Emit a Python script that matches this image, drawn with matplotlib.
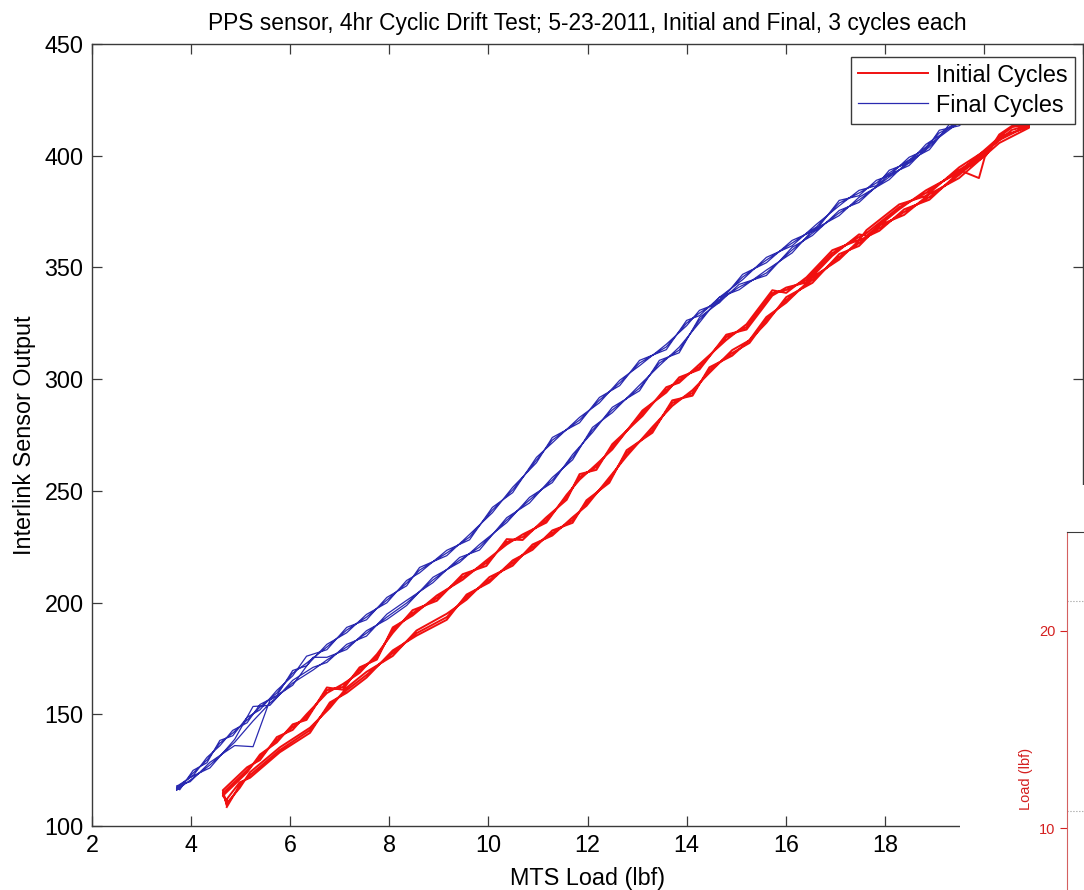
import matplotlib
matplotlib.use("Agg")
import matplotlib.pyplot as plt
from matplotlib.patches import Rectangle

plt.rcParams['font.family'] = ['Liberation Sans', 'DejaVu Sans']

# initial cycles (red): loading path (lower band), then unloading path (upper band)
red_up_x = [4.72, 4.98, 5.19, 5.79, 6.40, 6.80, 7.14, 7.54, 8.07, 8.55, 9.16, 9.56, 10.02, 10.49,
            10.89, 11.29, 11.70, 11.98, 12.44, 12.79, 13.31, 13.71, 14.12, 14.46, 14.92, 15.27,
            15.61, 16.01, 16.54, 17.08, 17.48, 17.89, 18.39, 18.90, 19.50, 20.31, 20.91]
red_up_y1 = [108.5, 118.3, 122.8, 134.0, 142.9, 154.1, 160.8, 167.6, 177.4, 186.3, 193.5, 202.5,
             210.1, 217.7, 224.8, 231.1, 236.9, 244.5, 254.8, 266.9, 277.2, 289.3, 293.8, 304.1,
             311.7, 316.2, 326.5, 335.4, 344.4, 354.7, 360.9, 367.6, 374.8, 381.5, 391.4, 407.0, 413.7]
red_up_y2 = [110.2, 117.0, 124.1, 135.2, 144.0, 152.8, 161.9, 169.0, 176.1, 187.5, 195.0, 201.3,
             211.4, 216.5, 226.0, 230.0, 238.2, 243.3, 256.0, 265.5, 278.6, 288.0, 295.1, 302.8,
             313.0, 317.4, 325.2, 336.7, 343.1, 356.0, 359.6, 368.9, 373.5, 382.8, 390.0, 405.7, 412.5]
red_up_y3 = [112.0, 119.5, 121.6, 133.0, 141.7, 155.3, 159.6, 166.4, 178.6, 185.2, 192.3, 203.6,
             209.0, 218.9, 223.6, 232.3, 235.7, 245.8, 253.6, 268.2, 276.0, 290.5, 292.6, 305.3,
             310.5, 317.5, 327.8, 334.2, 345.6, 353.5, 362.1, 366.4, 376.0, 380.3, 392.6, 408.3, 413.0]

red_dn_x = [20.91, 20.57, 20.31, 20.04, 19.50, 18.83, 18.29, 17.63, 17.48, 16.94, 16.42, 16.01,
            15.73, 15.21, 14.80, 14.26, 13.85, 13.59, 13.11, 12.50, 12.18, 11.84, 11.58, 11.17,
            10.69, 10.37, 9.96, 9.48, 8.96, 8.47, 8.07, 7.75, 7.40, 7.06, 6.74, 6.33, 6.05, 5.73,
            5.39, 5.13, 4.64, 4.72]
red_dn_y1 = [414.2, 412.8, 408.4, 401.2, 393.6, 383.3, 377.0, 365.4, 363.6, 356.4, 344.4, 339.9,
             338.5, 323.3, 318.8, 305.4, 299.6, 295.1, 284.8, 269.6, 260.7, 256.2, 247.2, 236.9,
             229.3, 227.1, 217.7, 211.4, 202.0, 195.3, 187.7, 175.6, 169.8, 162.2, 160.8, 148.7,
             144.3, 138.5, 130.8, 125.0, 114.7, 110.0]
red_dn_y2 = [413.5, 411.6, 407.0, 402.5, 394.8, 382.0, 378.2, 366.7, 362.3, 357.7, 345.6, 338.6,
             339.8, 324.6, 317.5, 306.7, 298.4, 296.4, 283.5, 270.9, 259.4, 257.5, 246.0, 238.2,
             228.0, 228.4, 216.4, 212.7, 200.8, 196.6, 186.4, 176.9, 168.5, 163.5, 159.5, 150.0,
             143.0, 139.8, 129.5, 126.3, 116.0, 109.2]
red_dn_y3 = [412.9, 413.4, 409.5, 400.0, 392.5, 384.5, 376.0, 364.2, 364.8, 355.2, 343.3, 341.0,
             337.4, 322.2, 319.9, 304.3, 300.8, 294.0, 286.0, 268.5, 261.9, 255.0, 248.3, 235.8,
             230.5, 226.0, 218.9, 210.2, 203.2, 194.2, 188.9, 174.5, 171.0, 161.0, 162.0, 147.5,
             145.5, 137.4, 132.0, 124.0, 113.5, 111.5]

# glitch near the top of one initial cycle
red_glitch_x = [19.50, 19.90, 20.04]
red_glitch_y = [393.6, 390.0, 401.2]

# final cycles (blue)
blue_up_x = [3.71, 3.98, 4.38, 4.88, 5.25, 5.59, 6.05, 6.46, 6.74, 7.14, 7.54, 7.95, 8.35, 8.88,
             9.42, 9.82, 10.37, 10.83, 11.29, 11.70, 12.10, 12.50, 13.05, 13.45, 13.85, 14.26,
             14.66, 15.06, 15.61, 16.13, 16.54, 17.08, 17.48, 18.09, 18.49, 18.90, 19.30, 20.31]
blue_up_y1 = [116.1, 120.5, 127.3, 137.5, 147.0, 155.0, 164.0, 169.8, 174.3, 180.1, 186.3, 193.5,
              199.8, 210.1, 219.0, 224.8, 236.9, 245.9, 254.8, 265.1, 277.2, 286.2, 296.0, 307.2,
              313.0, 326.5, 335.4, 341.2, 347.5, 357.8, 365.4, 374.4, 380.2, 390.5, 396.7, 403.9,
              412.8, 427.2]
blue_up_y2 = [117.0, 121.8, 126.0, 138.8, 153.5, 154.0, 165.2, 171.0, 173.2, 181.3, 185.0, 194.8,
              201.0, 208.9, 220.2, 223.5, 238.0, 244.6, 256.0, 263.9, 278.4, 285.0, 297.3, 306.0,
              314.3, 325.3, 336.6, 340.0, 348.8, 356.5, 366.6, 373.2, 381.4, 389.3, 397.9, 402.7,
              414.0, 426.0]
blue_up_y3 = [118.0, 119.8, 128.5, 136.0, 135.5, 156.3, 163.0, 175.5, 175.5, 179.0, 187.4, 192.4,
              198.7, 211.3, 218.0, 226.0, 235.8, 247.1, 253.7, 266.3, 276.1, 287.4, 294.8, 308.4,
              311.8, 327.6, 334.3, 342.4, 346.4, 359.0, 364.3, 375.5, 379.1, 391.6, 395.6, 405.0,
              411.6, 428.0]

blue_dn_x = [20.31, 19.50, 19.10, 18.83, 18.49, 18.09, 17.83, 17.48, 17.08, 16.62, 16.13, 15.61,
             15.13, 14.66, 14.26, 14.00, 13.59, 13.05, 12.65, 12.24, 11.84, 11.29, 10.97, 10.49,
             10.08, 9.62, 9.16, 8.61, 8.35, 7.95, 7.54, 7.14, 6.74, 6.33, 6.05, 5.73, 5.39, 5.13,
             4.84, 4.58, 4.32, 4.04, 3.77, 3.71]
blue_dn_y1 = [427.2, 414.6, 410.2, 403.9, 398.1, 392.3, 387.8, 383.3, 378.8, 368.1, 360.9, 353.3,
              345.7, 335.4, 329.6, 325.1, 314.4, 307.2, 298.3, 290.6, 281.7, 272.7, 263.8, 250.4,
              241.4, 229.3, 222.2, 214.5, 208.7, 201.1, 193.5, 187.7, 180.1, 172.9, 168.4, 159.5,
              153.2, 147.4, 141.6, 137.1, 129.5, 123.7, 117.4, 116.1]
blue_dn_y2 = [426.0, 415.8, 409.0, 405.1, 396.9, 393.5, 386.6, 384.5, 377.6, 369.3, 359.7, 354.5,
              344.5, 336.6, 328.4, 326.3, 313.2, 308.4, 297.1, 291.8, 280.5, 273.9, 262.6, 251.6,
              240.2, 230.5, 221.0, 215.7, 207.5, 202.3, 192.3, 188.9, 178.9, 176.0, 167.2, 160.7,
              152.0, 148.6, 140.4, 138.3, 128.3, 124.9, 116.2, 117.5]
blue_dn_y3 = [428.0, 413.4, 411.4, 402.7, 399.3, 391.1, 389.0, 382.1, 380.0, 366.9, 362.1, 352.1,
              346.9, 334.2, 330.8, 323.9, 315.6, 306.0, 299.5, 289.4, 282.9, 271.5, 265.0, 249.2,
              242.6, 228.1, 223.4, 213.3, 209.9, 199.9, 194.7, 186.5, 181.3, 171.7, 169.6, 158.3,
              154.4, 146.2, 142.8, 135.9, 130.7, 122.5, 118.6, 116.8]

x_ticks = [2, 4, 6, 8, 10, 12, 14, 16, 18, 20, 22]
# 20 and 22 sit under the covering window in the screenshot
x_tick_labels = ['2', '4', '6', '8', '10', '12', '14', '16', '18', '', '']

# fragment of a second window in the lower right corner
load_ticks = [10, 20]
load_ref_levels = [21.5, 10.9]

RED = '#f01010'
BLUE = '#2a2ab0'
EDGE = '#3a3a3a'


def cycle_path(up_x, down_x, ups, downs):
    xs, ys = [], []
    for up_y, down_y in zip(ups, downs):
        xs += up_x + down_x
        ys += up_y + down_y
    return xs, ys


fig = plt.figure(figsize=(10.84, 8.90), dpi=100)
ax = fig.add_axes([92 / 1084, 64 / 890, 991 / 1084, 782 / 890])

rx, ry = cycle_path(red_up_x, red_dn_x, [red_up_y1, red_up_y2, red_up_y3],
                    [red_dn_y1, red_dn_y2, red_dn_y3])
bx, by = cycle_path(blue_up_x, blue_dn_x, [blue_up_y1, blue_up_y2, blue_up_y3],
                    [blue_dn_y1, blue_dn_y2, blue_dn_y3])

ax.plot(rx, ry, color=RED, lw=1.4, label='Initial Cycles')
ax.plot(red_glitch_x, red_glitch_y, color=RED, lw=1.4)
ax.plot(bx, by, color=BLUE, lw=0.9, label='Final Cycles')

ax.set_xlim(2, 22)
ax.set_ylim(100, 450)
ax.set_xticks(x_ticks)
ax.set_xticklabels(x_tick_labels)
ax.set_yticks(range(100, 451, 50))
ax.tick_params(direction='in', length=7, width=0.9, top=True, right=True,
               labelsize=16.8, color=EDGE, pad=6)
for s in ax.spines.values():
    s.set_color(EDGE)
    s.set_linewidth(1.0)

ax.set_xlabel('MTS Load (lbf)', fontsize=16.8, labelpad=7)
ax.set_ylabel('Interlink Sensor Output', fontsize=16.8, labelpad=6)
ax.set_title('PPS sensor, 4hr Cyclic Drift Test; 5-23-2011, Initial and Final, 3 cycles each',
             fontsize=16.4, pad=10)

leg = ax.legend(loc='upper right', bbox_to_anchor=(0.992, 0.984), fontsize=16.8,
                fancybox=False, edgecolor=EDGE, framealpha=1, handlelength=3.0,
                handletextpad=0.35, borderpad=0.3, labelspacing=0.3, borderaxespad=0)
leg.get_frame().set_linewidth(1.0)

# white cover over the lower right corner
cover = Rectangle((960 / 1084, 0), 124 / 1084, 405 / 890, transform=fig.transFigure,
                  facecolor='white', edgecolor='none', zorder=5)
fig.add_artist(cover)

ax2 = fig.add_axes([1067 / 1084, -136 / 890, 0.2, 494 / 890], zorder=10)
ax2.set_ylim(0, 25)
ax2.set_xlim(0, 1)
ax2.set_yticks(load_ticks)
ax2.set_xticks([])
for lev in load_ref_levels:
    ax2.axhline(lev, color='#999999', lw=0.8, ls=':')
ax2.tick_params(axis='y', colors='#d42020', labelsize=10.5, length=5, width=0.8)
ax2.spines['left'].set_color('#d46060')
ax2.spines['top'].set_color(EDGE)
ax2.spines['right'].set_visible(False)
ax2.spines['bottom'].set_visible(False)
ax2.set_ylabel('Load (lbf)', color='#d42020', fontsize=10.5, labelpad=4)

fig.savefig('out.png', dpi=100, facecolor='white')
